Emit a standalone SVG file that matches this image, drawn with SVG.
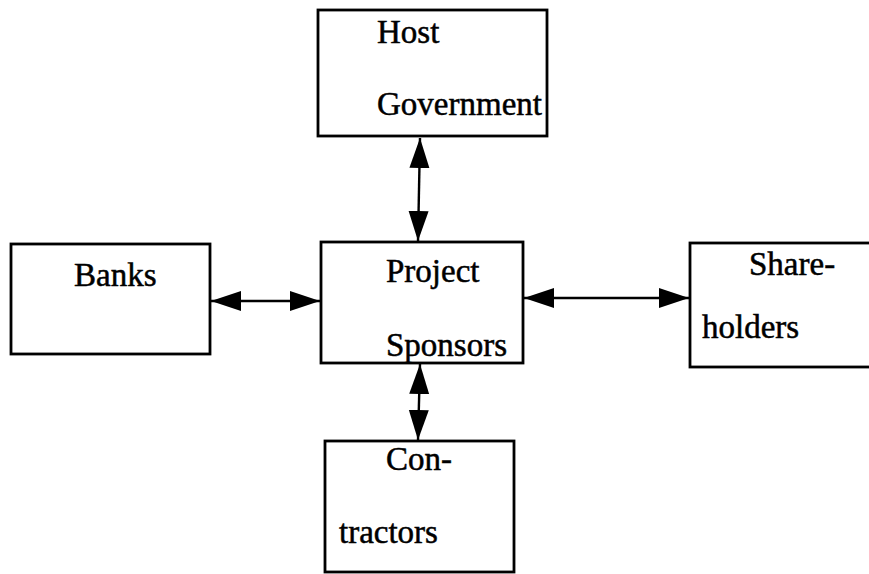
<svg xmlns="http://www.w3.org/2000/svg" width="869" height="574" viewBox="0 0 869 574">
<style>
.box{fill:#fff;stroke:#000;stroke-width:2.8}
.lbl{font-family:"Liberation Serif","Times New Roman",serif;font-size:33px;fill:#000;stroke:#000;stroke-width:0.5}
.conn{stroke:#000;stroke-width:2.4;fill:none}
</style>
<defs>
<marker id="ah" markerUnits="userSpaceOnUse" markerWidth="32" markerHeight="22" refX="30" refY="10" orient="auto-start-reverse">
<path d="M0,0 L30,10 L0,20 z" fill="#000"/>
</marker>
</defs>
<rect width="869" height="574" fill="#fff"/>
<g id="connectors">
<line class="conn" x1="420" y1="138" x2="418" y2="241" marker-start="url(#ah)" marker-end="url(#ah)"/>
<line class="conn" x1="211" y1="301" x2="320" y2="301" marker-start="url(#ah)" marker-end="url(#ah)"/>
<line class="conn" x1="524" y1="298" x2="689" y2="298" marker-start="url(#ah)" marker-end="url(#ah)"/>
<line class="conn" x1="420" y1="364" x2="418" y2="440" marker-start="url(#ah)" marker-end="url(#ah)"/>
</g>
<g id="host-government">
<rect class="box" x="318" y="10" width="229" height="126"/>
<text class="lbl" x="377" y="43">Host</text>
<text class="lbl" x="377" y="115">Government</text>
</g>
<g id="banks">
<rect class="box" x="11" y="244" width="199" height="110"/>
<text class="lbl" x="74" y="286">Banks</text>
</g>
<g id="project-sponsors">
<rect class="box" x="321" y="242" width="202" height="121"/>
<text class="lbl" x="386" y="282">Project</text>
<text class="lbl" x="386" y="356">Sponsors</text>
</g>
<g id="shareholders">
<rect class="box" x="690" y="243" width="200" height="124"/>
<text class="lbl" x="749" y="275">Share-</text>
<text class="lbl" x="702" y="338">holders</text>
</g>
<g id="contractors">
<rect class="box" x="325" y="441" width="189" height="131"/>
<text class="lbl" x="386" y="470">Con-</text>
<text class="lbl" x="339" y="543">tractors</text>
</g>
</svg>
